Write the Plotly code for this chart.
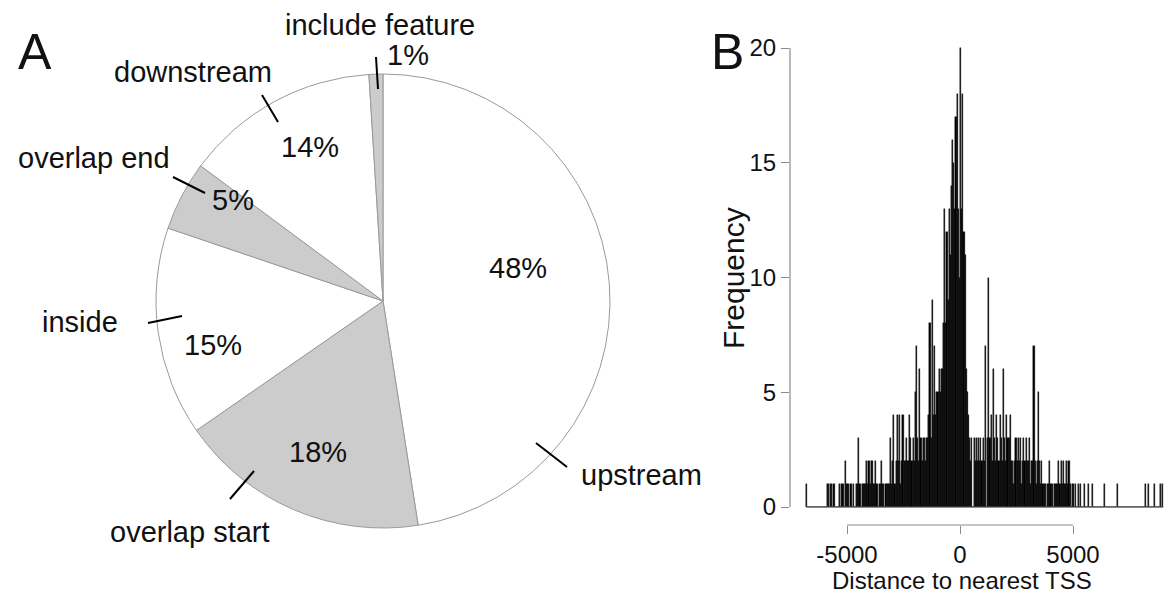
import plotly.graph_objects as go
import numpy as np

W, H = 1169, 597

# ---------------- data ----------------
pie_labels = ["upstream", "overlap start", "inside", "overlap end", "downstream", "include feature"]
pie_values = [48, 18, 15, 5, 14, 1]
pie_colors = ["#ffffff", "#cccccc", "#ffffff", "#cccccc", "#ffffff", "#cccccc"]

# histogram of distance to nearest TSS: 50 bp bins starting at -6800
bin_start = -6800
bin_width = 50
freq = [
    1, 0, 0, 0, 0, 0, 0, 0, 0, 0,
    0, 0, 0, 0, 0, 0, 0, 0, 1, 1,
    0, 1, 1, 0, 1, 0, 0, 0, 0, 1,
    0, 1, 1, 0, 2, 1, 1, 1, 0, 1,
    0, 1, 0, 0, 1, 1, 3, 1, 0, 1,
    1, 1, 1, 2, 1, 2, 1, 2, 2, 1,
    1, 2, 1, 0, 1, 1, 2, 1, 1, 0,
    1, 1, 1, 1, 3, 1, 2, 4, 1, 2,
    4, 2, 4, 1, 2, 4, 2, 2, 3, 2,
    2, 4, 3, 2, 3, 2, 5, 7, 3, 2,
    6, 3, 2, 3, 3, 2, 3, 3, 4, 8,
    3, 9, 4, 7, 4, 5, 5, 6, 5, 6,
    6, 8, 13, 8, 12, 9, 13, 11, 14, 16,
    15, 13, 17, 18, 13, 10, 20, 13, 18, 12,
    11, 6, 5, 4, 3, 2, 3, 0, 3, 2,
    3, 2, 3, 2, 3, 2, 3, 2, 7, 0,
    3, 10, 3, 4, 2, 6, 3, 2, 4, 3,
    2, 4, 3, 2, 6, 3, 2, 4, 3, 3,
    4, 2, 2, 1, 2, 3, 2, 3, 2, 3,
    1, 2, 3, 2, 3, 2, 2, 3, 1, 2,
    2, 7, 2, 1, 2, 5, 2, 1, 2, 1,
    1, 1, 0, 1, 1, 2, 1, 1, 0, 1,
    1, 1, 1, 2, 1, 2, 1, 2, 1, 1,
    2, 1, 2, 1, 0, 1, 1, 0, 1, 0,
    1, 0, 1, 0, 0, 0, 1, 0, 0, 1,
    0, 0, 0, 1, 0, 0, 0, 0, 0, 0,
    0, 0, 0, 1, 0, 0, 0, 0, 0, 0,
    0, 0, 0, 0, 0, 1, 0, 0, 0, 0,
    0, 0, 0, 0, 0, 0, 0, 0, 0, 0,
    0, 0, 0, 0, 0, 0, 0, 0, 0, 0,
    1, 0, 1, 0, 0, 0, 0, 0, 1, 0,
    0, 0, 0, 1, 0, 1,
]
x_ticks = [-5000, 0, 5000]
y_ticks = [0, 5, 10, 15, 20]

# ---------------- helpers ----------------
def px(x):
    return x / W

def py(y):
    return 1 - y / H

FONT = "Liberation Sans, Arial, Helvetica, sans-serif"
TXT = "#111111"
AXC = "#8a8a8a"

fig = go.Figure()

# ---------------- pie (panel A) ----------------
cx, cy, r = 383, 301, 227
fig.add_trace(go.Pie(
    labels=pie_labels, values=pie_values, sort=False,
    direction="clockwise", rotation=0,
    marker=dict(colors=pie_colors, line=dict(color="#9a9a9a", width=1)),
    textinfo="none", hoverinfo="label+percent", showlegend=False,
    domain=dict(x=[px(cx - r), px(cx + r)], y=[py(cy + r), py(cy - r)]),
))

# label placement (pixels): name text, percent text, leader line
label_pos = {
    "upstream":        dict(t=(641, 475), p=(518, 268), l=((536, 443), (567, 467))),
    "overlap start":   dict(t=(190, 532), p=(318, 452), l=((230, 499), (254, 471))),
    "inside":          dict(t=(80, 322),  p=(213, 345), l=((148, 323), (182, 316))),
    "overlap end":     dict(t=(94, 158),  p=(233, 200), l=((173, 177), (205, 193))),
    "downstream":      dict(t=(193, 72),  p=(310, 147), l=((262, 95), (278, 122))),
    "include feature": dict(t=(380, 25),  p=(408, 55),  l=((376, 57), (378, 89))),
}

annotations = []
shapes = []
for name, val in zip(pie_labels, pie_values):
    pos = label_pos[name]
    annotations.append(dict(x=px(pos["t"][0]), y=py(pos["t"][1]), xref="paper", yref="paper",
                            text=name, showarrow=False, xanchor="center", yanchor="middle",
                            font=dict(family=FONT, size=29, color=TXT)))
    annotations.append(dict(x=px(pos["p"][0]), y=py(pos["p"][1]), xref="paper", yref="paper",
                            text=f"{val}%", showarrow=False, xanchor="center", yanchor="middle",
                            font=dict(family=FONT, size=29, color=TXT)))
    (x0, y0), (x1, y1) = pos["l"]
    shapes.append(dict(type="line", xref="paper", yref="paper",
                       x0=px(x0), y0=py(y0), x1=px(x1), y1=py(y1),
                       line=dict(color="#000000", width=2)))

# ---------------- histogram (panel B) ----------------
edges = bin_start + bin_width * np.arange(len(freq) + 1)
centers = (edges[:-1] + edges[1:]) / 2

fig.add_trace(go.Bar(
    x=centers, y=freq, width=bin_width,
    marker=dict(color="#000000", line=dict(color="#000000", width=0.4)),
    xaxis="x2", yaxis="y2", showlegend=False, hoverinfo="x+y",
))
# baseline drawn under the rectangles
fig.add_trace(go.Scatter(
    x=[edges[0], edges[-1]], y=[0, 0], mode="lines",
    line=dict(color="#444444", width=1),
    xaxis="x2", yaxis="y2", showlegend=False, hoverinfo="skip",
))

# geometry of panel B (pixels)
x_left_px, x_right_px = 790, 1169
zero_px, per_unit_x = 960, (1073 - 847) / 10000
y_bot_px, y_top_px = 525, 30
y0_px, y20_px = 507, 48
per_unit_y = (y0_px - y20_px) / 20

xr = [(x_left_px - zero_px) / per_unit_x, (x_right_px - zero_px) / per_unit_x]
yr = [(y0_px - y_bot_px) / per_unit_y, (y0_px - y_top_px) / per_unit_y]

# axis lines as R draws them (first to last tick)
shapes.append(dict(type="line", xref="x2", yref="paper",
                   x0=x_ticks[0], x1=x_ticks[-1], y0=py(y_bot_px), y1=py(y_bot_px),
                   line=dict(color=AXC, width=1.2)))
shapes.append(dict(type="line", xref="paper", yref="y2",
                   x0=px(x_left_px), x1=px(x_left_px), y0=y_ticks[0], y1=y_ticks[-1],
                   line=dict(color=AXC, width=1.2)))

annotations += [
    dict(x=px(35), y=py(52), xref="paper", yref="paper", text="A", showarrow=False,
         font=dict(family=FONT, size=50, color=TXT), xanchor="center", yanchor="middle"),
    dict(x=px(727), y=py(52), xref="paper", yref="paper", text="B", showarrow=False,
         font=dict(family=FONT, size=50, color=TXT), xanchor="center", yanchor="middle"),
    dict(x=px(733), y=py(278), xref="paper", yref="paper", text="Frequency", showarrow=False,
         textangle=-90, font=dict(family=FONT, size=30, color=TXT), xanchor="center", yanchor="middle"),
    dict(x=px(962), y=py(580), xref="paper", yref="paper", text="Distance to nearest TSS",
         showarrow=False, font=dict(family=FONT, size=24, color=TXT), xanchor="center", yanchor="middle"),
]

fig.update_layout(
    width=W, height=H,
    margin=dict(l=0, r=0, t=0, b=0),
    paper_bgcolor="white", plot_bgcolor="white",
    bargap=0,
    xaxis2=dict(domain=[px(x_left_px), 1], range=xr, anchor="y2",
                showgrid=False, zeroline=False, showline=False,
                tickmode="array", tickvals=x_ticks, ticktext=[str(v) for v in x_ticks],
                ticks="outside", ticklen=8, tickcolor=AXC, tickwidth=1.2,
                tickfont=dict(family=FONT, size=24, color=TXT)),
    yaxis2=dict(domain=[py(y_bot_px), py(y_top_px)], range=yr, anchor="x2",
                showgrid=False, zeroline=False, showline=False,
                tickmode="array", tickvals=y_ticks, ticktext=[str(v) for v in y_ticks],
                ticks="outside", ticklen=8, tickcolor=AXC, tickwidth=1.2,
                tickfont=dict(family=FONT, size=24, color=TXT)),
    annotations=annotations,
    shapes=shapes,
)

fig.write_html("out.html")
